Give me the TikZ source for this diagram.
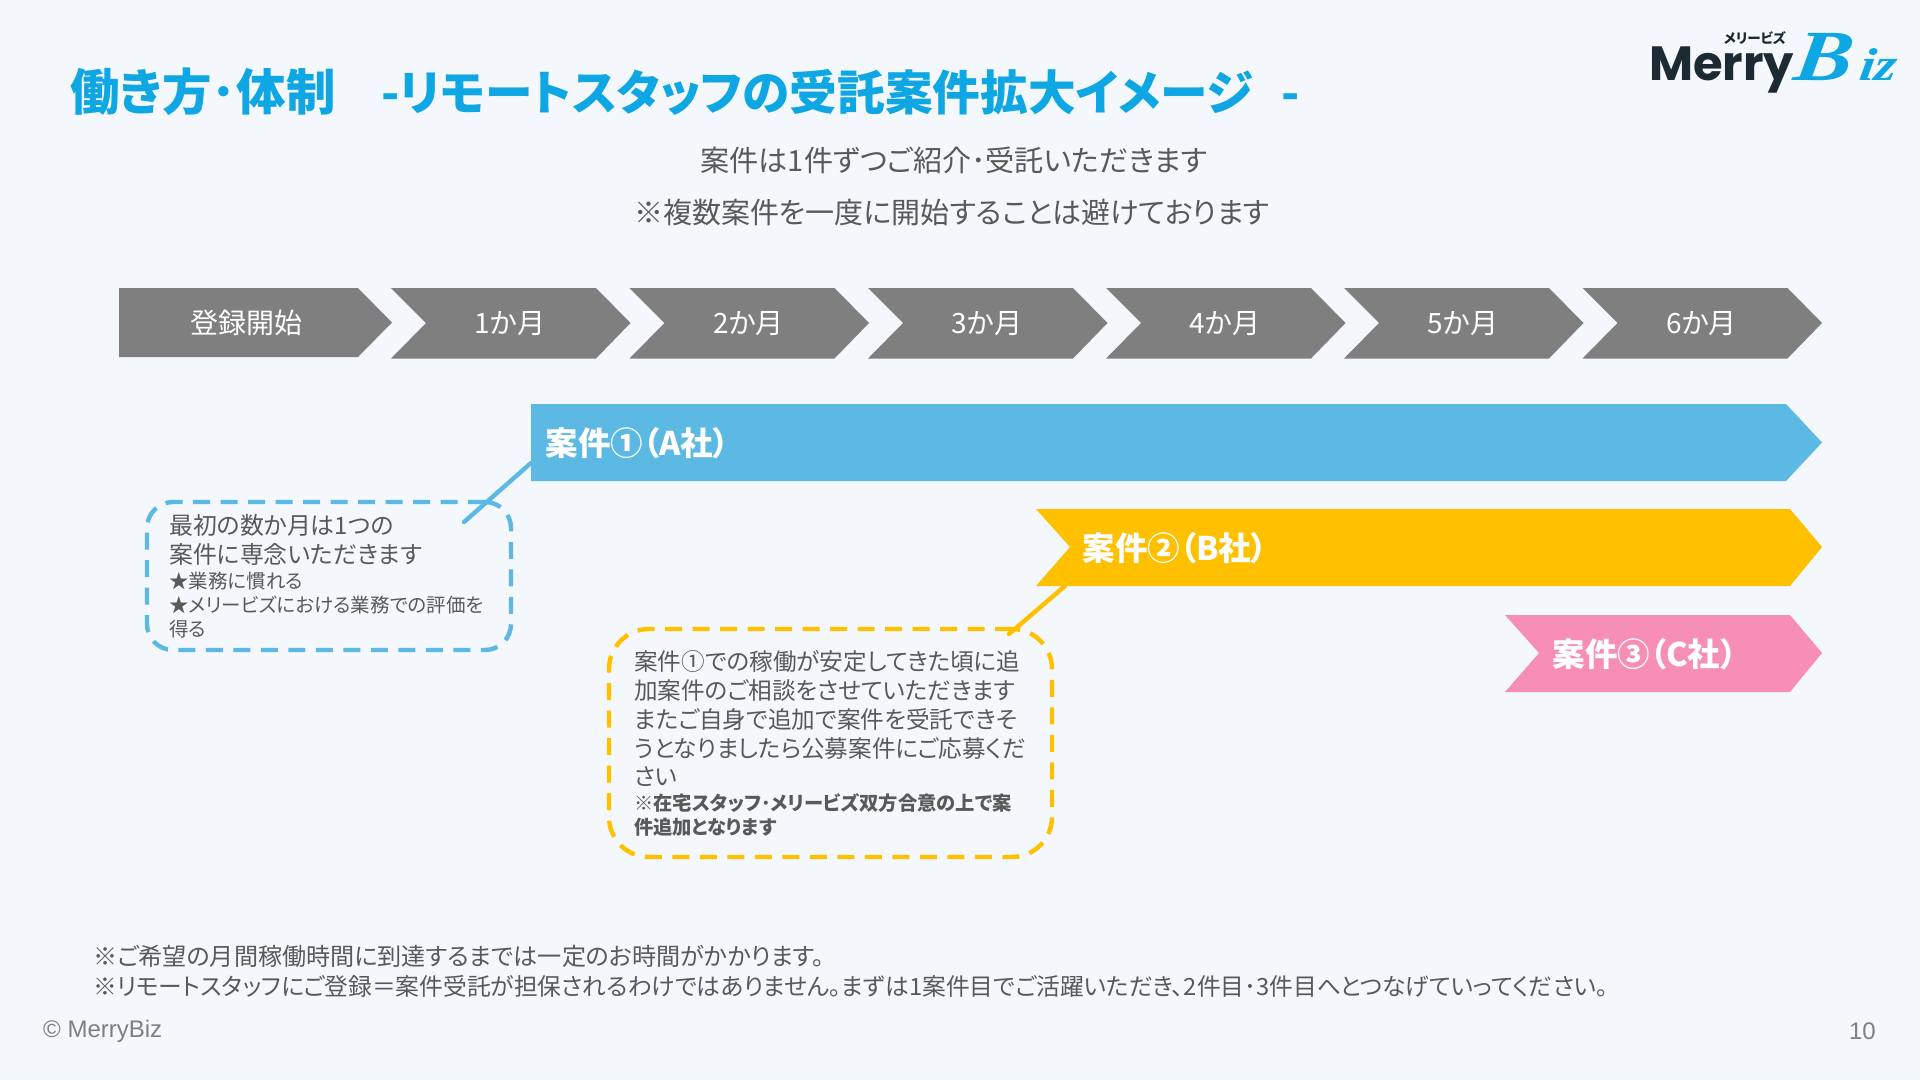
\documentclass[tikz,border=0pt]{standalone}
\usepackage{fontspec}
\setmainfont{Noto Sans CJK JP}[RawFeature=+palt]
\newfontfamily\jp{Noto Sans CJK JP}[RawFeature=+palt]
\newfontfamily\lat{Liberation Sans}
\newfontfamily\logofont{Poppins}[BoldFont=* Bold]
\newfontfamily\bizfont{Liberation Serif}
\newcommand{\fs}[2]{\fontsize{#1}{#2}\selectfont}
\definecolor{bg}{HTML}{F4F8FC}
\definecolor{titleblue}{HTML}{0EA7E3}
\definecolor{txt}{HTML}{595959}
\definecolor{grey}{HTML}{7F7F7F}
\definecolor{barblue}{HTML}{5BB9E3}
\definecolor{barorange}{HTML}{FFC000}
\definecolor{barpink}{HTML}{F78EB6}
\definecolor{logodark}{HTML}{1B2A33}
\tikzset{
  chev/.style={fill=grey,draw=none},
  chevlabel/.style={text=white,font=\jp\fs{28}{32},anchor=center},
  barlabel/.style={text=white,font=\jp\bfseries\fs{32.5}{36},anchor=west},
  dashbox/.style={draw=#1,line width=4.4pt,dash pattern=on 17pt off 10.5pt,fill=none,inner sep=0pt},
  leader/.style={draw=#1,line width=4.4pt,line cap=round},
  para/.style={text=txt,anchor=north west,align=left,inner sep=0pt},
  bizlogo/.style={anchor=base west,inner sep=0pt,text=titleblue,xslant=0.15,xscale=1.2,transform shape},
}
\begin{document}
\begin{tikzpicture}[x=1pt,y=-1pt]
\useasboundingbox (0,0) rectangle (1920,1080);
\fill[bg] (0,0) rectangle (1920,1080);
% title
\node[anchor=base west,inner sep=0pt,text=titleblue,font=\jp\bfseries\fs{47.7}{56}] (title) at (70,110) {{\fs{49.5}{56}働き方･体制}　\hspace*{-2pt}-リモートスタッフの受託案件拡大イメージ　\hspace*{-19pt}-};
% logo
\node[anchor=base west,inner sep=0pt,text=logodark,font=\logofont\bfseries\fs{48}{56}] (logoa) at (1649,80) {Merry};
\node[anchor=center,inner sep=0pt,text=logodark,font=\jp\bfseries\fs{13.5}{16}] (logob) at (1755,38) {メリービズ};
\node[bizlogo,font=\bizfont\itshape\bfseries\fs{72}{76}] (logoc) at (1792,80) {B};
\node[bizlogo,font=\bizfont\itshape\bfseries\fs{46}{76}] (logod) at (1858,80) {iz};
% subtitle
\node[text=txt,font=\jp\fs{29.1}{34},inner sep=0pt] (sub1) at (954,160) {案件は1件ずつご紹介･受託いただきます};
\node[text=txt,font=\jp\fs{29}{34},inner sep=0pt] (sub2) at (952,213) {※複数案件を一度に開始することは避けております};
% chevrons
\fill[chev] (119,288) -- (358,288) -- (392,322.5) -- (358,357) -- (119,357) -- cycle;
\node[chevlabel] (c0) at (246,323) {登録開始};
\foreach \i/\x/\lab in {1/391/1か月,2/629.5/2か月,3/868/3か月,4/1106/4か月,5/1344/5か月,6/1582.5/6か月}{
  \fill[chev] (\x,288) -- (\x+205,288) -- (\x+239.5,323) -- (\x+205,358.5) -- (\x,358.5) -- (\x+35,323) -- cycle;
  \node[chevlabel] (c\i) at (\x+119,324) {\lab};
}
% bars
\fill[barblue] (531,404) -- (1786,404) -- (1822,442.5) -- (1786,481) -- (531,481) -- cycle;
\node[barlabel] (bara) at (542,443) {案件①（A社）};
\fill[barorange] (1036,509) -- (1790,509) -- (1822,547) -- (1790,586) -- (1036,586) -- (1070,547) -- cycle;
\node[barlabel] (barb) at (1079,548) {案件②（B社）};
\fill[barpink] (1505,615) -- (1790,615) -- (1822,653) -- (1790,692) -- (1505,692) -- (1539,653) -- cycle;
\node[barlabel] (barc) at (1549,654) {案件③（C社）};
% dashed boxes
\node[dashbox=barblue,rectangle,rounded corners=26pt,minimum width=364pt,minimum height=148pt] (boxa) at (329,576) {};
\node[dashbox=barorange,rectangle,rounded corners=40pt,minimum width=443pt,minimum height=228pt] (boxb) at (830.5,743) {};
% leaders
\coordinate (la1) at (531,463);
\coordinate (la2) at (464,522);
\coordinate (lb1) at (1065,586);
\coordinate (lb2) at (1009,634);
\draw[leader=barblue] (la1) -- (la2);
\draw[leader=barorange] (lb1) -- (lb2);
% box texts
\node[para,font=\jp\fs{23.9}{28.4}] (ta) at (169,514.5) {最初の数か月は1つの\\案件に専念いただきます};
\node[para,font=\jp\fs{19.5}{24}] (tab) at (169,571.5) {★業務に慣れる\\★メリービズにおける業務での評価を\\得る};
\node[para,font=\jp\fs{23.6}{28.8}] (tb) at (634,650.5) {案件①での稼働が安定してきた頃に追\\加案件のご相談をさせていただきます\\またご自身で追加で案件を受託できそ\\うとなりましたら公募案件にご応募くだ\\さい};
\node[para,font=\jp\bfseries\fs{19.3}{24.5}] (tbb) at (634,793) {※在宅スタッフ･メリービズ双方合意の上で案\\件追加となります};
% footer
\node[para,font=\jp\fs{23.75}{29.4}] (foot) at (93,945) {{\fs{24.1}{29.4}※ご希望の月間稼働時間に到達するまでは一定のお時間がかかります。}\\※リモートスタッフにご登録＝案件受託が担保されるわけではありません。まずは1案件目でご活躍いただき、2件目･3件目へとつなげていってください。};
\node[anchor=west,inner sep=0pt,text=grey,font=\lat\fs{24}{28}] (copy) at (43,1031) {© MerryBiz};
\node[anchor=east,inner sep=0pt,text=grey,font=\lat\fs{24}{28}] (pg) at (1876,1031) {10};
\end{tikzpicture}
\end{document}
